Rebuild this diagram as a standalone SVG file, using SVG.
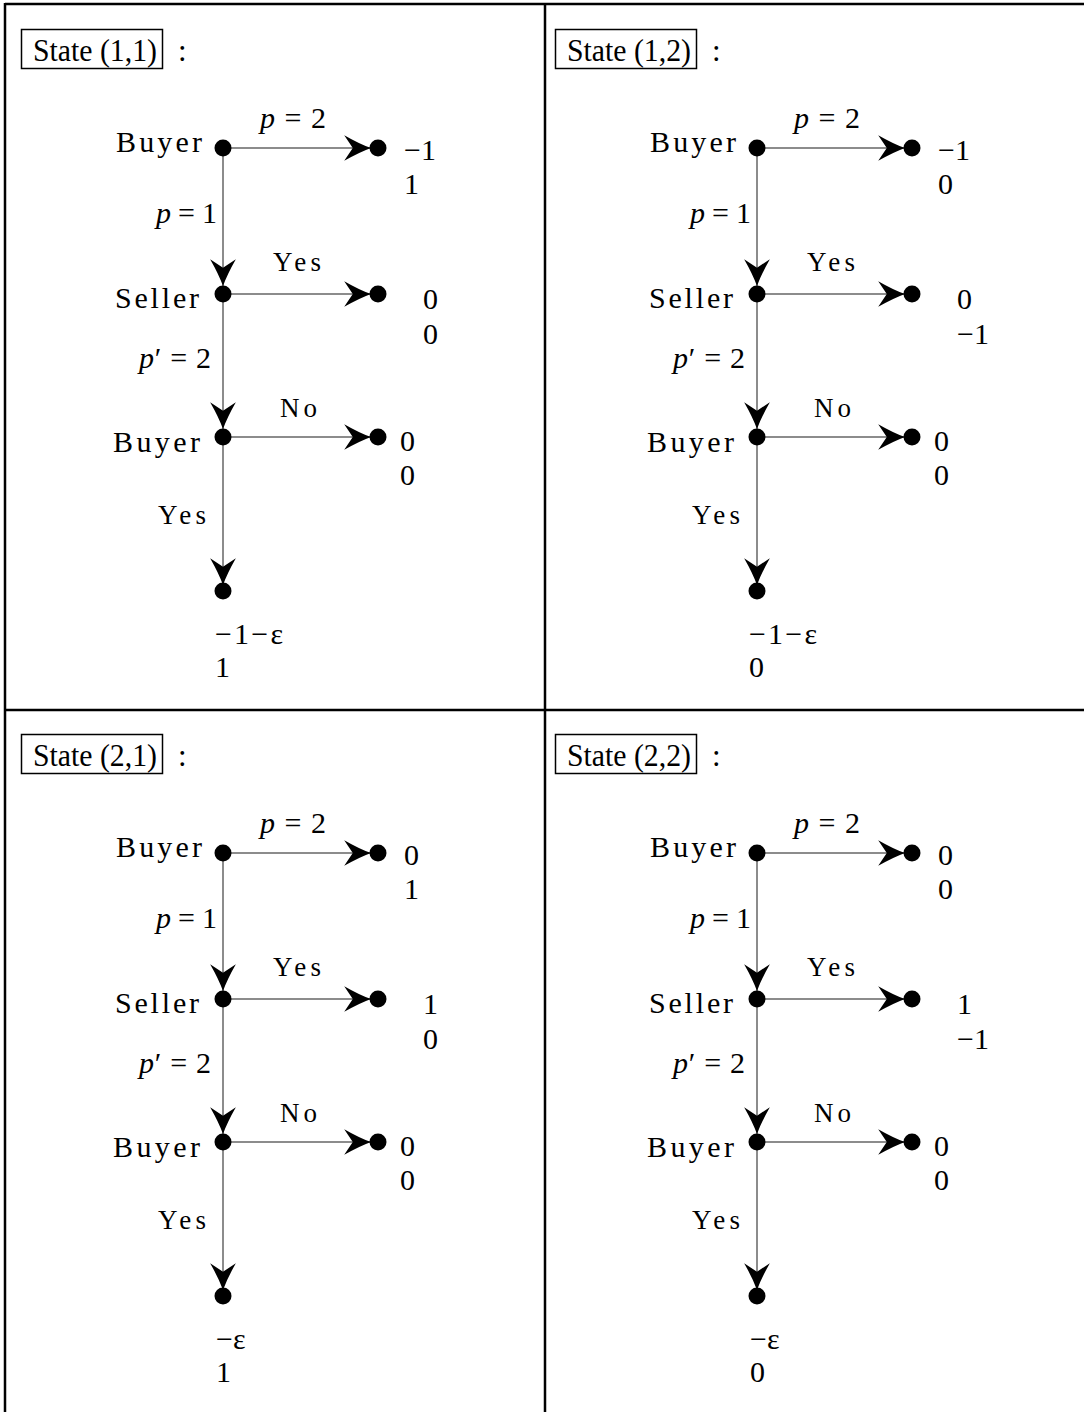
<svg xmlns="http://www.w3.org/2000/svg" width="1084" height="1412" viewBox="0 0 1084 1412">
<style>
text{font-family:"Liberation Serif","Times New Roman",serif;fill:#000}
.t{font-size:31px}
.lb{font-size:30px}
.sm{font-size:27px}
.nm{font-size:30px}
.i{font-style:italic}
.frame{stroke:#000;stroke-width:2.5;fill:none}
.box{stroke:#000;stroke-width:1.5;fill:none}
.e{stroke:#666;stroke-width:1.5;fill:none}
.d{fill:#000}
</style>
<defs>
<marker id="ah" markerUnits="userSpaceOnUse" markerWidth="30" markerHeight="30" viewBox="-26 -13 28 26" refX="0" refY="0" orient="auto">
<path d="M0,0 Q-11,-4 -25,-12 L-17,0 L-25,12 Q-11,4 0,0 Z" fill="#000"/>
</marker>
</defs>
<g id="frame">
<line class="frame" x1="5" y1="4" x2="1084" y2="4"/>
<line class="frame" x1="5" y1="3" x2="5" y2="1412"/>
<line class="frame" x1="545" y1="4" x2="545" y2="1412"/>
<line class="frame" x1="5" y1="710" x2="1084" y2="710"/>
</g>

<!-- Panel 1 -->
<g id="panel-11">
<g id="p11-connectors">
<line class="e" x1="223" y1="148" x2="371" y2="148" marker-end="url(#ah)"/>
<line class="e" x1="223" y1="148" x2="223" y2="286" marker-end="url(#ah)"/>
<line class="e" x1="223" y1="294" x2="371" y2="294" marker-end="url(#ah)"/>
<line class="e" x1="223" y1="294" x2="223" y2="429" marker-end="url(#ah)"/>
<line class="e" x1="223" y1="437" x2="371" y2="437" marker-end="url(#ah)"/>
<line class="e" x1="223" y1="437" x2="223" y2="585" marker-end="url(#ah)"/>
<text class="nm" x="260" y="128" textLength="66" lengthAdjust="spacing"><tspan class="i">p</tspan> = 2</text>
<text class="nm" x="156" y="223" textLength="61" lengthAdjust="spacing"><tspan class="i">p</tspan> = 1</text>
<text class="sm" x="273" y="271" textLength="48" lengthAdjust="spacing">Yes</text>
<text class="nm" x="139" y="368" textLength="72" lengthAdjust="spacing"><tspan class="i">p</tspan>′ = 2</text>
<text class="sm" x="280" y="417" textLength="37" lengthAdjust="spacing">No</text>
<text class="sm" x="158" y="524" textLength="48" lengthAdjust="spacing">Yes</text>
</g>
<g id="p11-title"><rect class="box" x="21.5" y="29.5" width="141" height="39"/><text class="t" x="33" y="61" textLength="124" lengthAdjust="spacingAndGlyphs">State (1,1)</text><text class="t" x="178" y="61">:</text></g>
<g id="p11-buyer1"><circle class="d" cx="223" cy="148" r="8.5"/><text class="lb" x="116" y="152" textLength="86" lengthAdjust="spacing">Buyer</text></g>
<g id="p11-end1"><circle class="d" cx="378" cy="148" r="8.5"/><text class="nm" x="404" y="160">−1</text><text class="nm" x="404" y="194">1</text></g>
<g id="p11-seller"><circle class="d" cx="223" cy="294" r="8.5"/><text class="lb" x="115" y="308" textLength="84" lengthAdjust="spacing">Seller</text></g>
<g id="p11-end2"><circle class="d" cx="378" cy="294" r="8.5"/><text class="nm" x="423" y="309">0</text><text class="nm" x="423" y="344">0</text></g>
<g id="p11-buyer2"><circle class="d" cx="223" cy="437" r="8.5"/><text class="lb" x="113" y="452" textLength="87" lengthAdjust="spacing">Buyer</text></g>
<g id="p11-end3"><circle class="d" cx="378" cy="437" r="8.5"/><text class="nm" x="400" y="451">0</text><text class="nm" x="400" y="485">0</text></g>
<g id="p11-end4"><circle class="d" cx="223" cy="591" r="8.5"/><text class="nm" x="215" y="644" textLength="68" lengthAdjust="spacing">−1−ε</text><text class="nm" x="215" y="677">1</text></g>
</g>

<!-- Panel 2 -->
<g id="panel-12" transform="translate(534,0)">
<g id="p12-connectors">
<line class="e" x1="223" y1="148" x2="371" y2="148" marker-end="url(#ah)"/>
<line class="e" x1="223" y1="148" x2="223" y2="286" marker-end="url(#ah)"/>
<line class="e" x1="223" y1="294" x2="371" y2="294" marker-end="url(#ah)"/>
<line class="e" x1="223" y1="294" x2="223" y2="429" marker-end="url(#ah)"/>
<line class="e" x1="223" y1="437" x2="371" y2="437" marker-end="url(#ah)"/>
<line class="e" x1="223" y1="437" x2="223" y2="585" marker-end="url(#ah)"/>
<text class="nm" x="260" y="128" textLength="66" lengthAdjust="spacing"><tspan class="i">p</tspan> = 2</text>
<text class="nm" x="156" y="223" textLength="61" lengthAdjust="spacing"><tspan class="i">p</tspan> = 1</text>
<text class="sm" x="273" y="271" textLength="48" lengthAdjust="spacing">Yes</text>
<text class="nm" x="139" y="368" textLength="72" lengthAdjust="spacing"><tspan class="i">p</tspan>′ = 2</text>
<text class="sm" x="280" y="417" textLength="37" lengthAdjust="spacing">No</text>
<text class="sm" x="158" y="524" textLength="48" lengthAdjust="spacing">Yes</text>
</g>
<g id="p12-title"><rect class="box" x="21.5" y="29.5" width="141" height="39"/><text class="t" x="33" y="61" textLength="124" lengthAdjust="spacingAndGlyphs">State (1,2)</text><text class="t" x="178" y="61">:</text></g>
<g id="p12-buyer1"><circle class="d" cx="223" cy="148" r="8.5"/><text class="lb" x="116" y="152" textLength="86" lengthAdjust="spacing">Buyer</text></g>
<g id="p12-end1"><circle class="d" cx="378" cy="148" r="8.5"/><text class="nm" x="404" y="160">−1</text><text class="nm" x="404" y="194">0</text></g>
<g id="p12-seller"><circle class="d" cx="223" cy="294" r="8.5"/><text class="lb" x="115" y="308" textLength="84" lengthAdjust="spacing">Seller</text></g>
<g id="p12-end2"><circle class="d" cx="378" cy="294" r="8.5"/><text class="nm" x="423" y="309">0</text><text class="nm" x="423" y="344">−1</text></g>
<g id="p12-buyer2"><circle class="d" cx="223" cy="437" r="8.5"/><text class="lb" x="113" y="452" textLength="87" lengthAdjust="spacing">Buyer</text></g>
<g id="p12-end3"><circle class="d" cx="378" cy="437" r="8.5"/><text class="nm" x="400" y="451">0</text><text class="nm" x="400" y="485">0</text></g>
<g id="p12-end4"><circle class="d" cx="223" cy="591" r="8.5"/><text class="nm" x="215" y="644" textLength="68" lengthAdjust="spacing">−1−ε</text><text class="nm" x="215" y="677">0</text></g>
</g>

<!-- Panel 3 -->
<g id="panel-21" transform="translate(0,705)">
<g id="p21-connectors">
<line class="e" x1="223" y1="148" x2="371" y2="148" marker-end="url(#ah)"/>
<line class="e" x1="223" y1="148" x2="223" y2="286" marker-end="url(#ah)"/>
<line class="e" x1="223" y1="294" x2="371" y2="294" marker-end="url(#ah)"/>
<line class="e" x1="223" y1="294" x2="223" y2="429" marker-end="url(#ah)"/>
<line class="e" x1="223" y1="437" x2="371" y2="437" marker-end="url(#ah)"/>
<line class="e" x1="223" y1="437" x2="223" y2="585" marker-end="url(#ah)"/>
<text class="nm" x="260" y="128" textLength="66" lengthAdjust="spacing"><tspan class="i">p</tspan> = 2</text>
<text class="nm" x="156" y="223" textLength="61" lengthAdjust="spacing"><tspan class="i">p</tspan> = 1</text>
<text class="sm" x="273" y="271" textLength="48" lengthAdjust="spacing">Yes</text>
<text class="nm" x="139" y="368" textLength="72" lengthAdjust="spacing"><tspan class="i">p</tspan>′ = 2</text>
<text class="sm" x="280" y="417" textLength="37" lengthAdjust="spacing">No</text>
<text class="sm" x="158" y="524" textLength="48" lengthAdjust="spacing">Yes</text>
</g>
<g id="p21-title"><rect class="box" x="21.5" y="29.5" width="141" height="39"/><text class="t" x="33" y="61" textLength="124" lengthAdjust="spacingAndGlyphs">State (2,1)</text><text class="t" x="178" y="61">:</text></g>
<g id="p21-buyer1"><circle class="d" cx="223" cy="148" r="8.5"/><text class="lb" x="116" y="152" textLength="86" lengthAdjust="spacing">Buyer</text></g>
<g id="p21-end1"><circle class="d" cx="378" cy="148" r="8.5"/><text class="nm" x="404" y="160">0</text><text class="nm" x="404" y="194">1</text></g>
<g id="p21-seller"><circle class="d" cx="223" cy="294" r="8.5"/><text class="lb" x="115" y="308" textLength="84" lengthAdjust="spacing">Seller</text></g>
<g id="p21-end2"><circle class="d" cx="378" cy="294" r="8.5"/><text class="nm" x="423" y="309">1</text><text class="nm" x="423" y="344">0</text></g>
<g id="p21-buyer2"><circle class="d" cx="223" cy="437" r="8.5"/><text class="lb" x="113" y="452" textLength="87" lengthAdjust="spacing">Buyer</text></g>
<g id="p21-end3"><circle class="d" cx="378" cy="437" r="8.5"/><text class="nm" x="400" y="451">0</text><text class="nm" x="400" y="485">0</text></g>
<g id="p21-end4"><circle class="d" cx="223" cy="591" r="8.5"/><text class="nm" x="216" y="644">−ε</text><text class="nm" x="216" y="677">1</text></g>
</g>

<!-- Panel 4 -->
<g id="panel-22" transform="translate(534,705)">
<g id="p22-connectors">
<line class="e" x1="223" y1="148" x2="371" y2="148" marker-end="url(#ah)"/>
<line class="e" x1="223" y1="148" x2="223" y2="286" marker-end="url(#ah)"/>
<line class="e" x1="223" y1="294" x2="371" y2="294" marker-end="url(#ah)"/>
<line class="e" x1="223" y1="294" x2="223" y2="429" marker-end="url(#ah)"/>
<line class="e" x1="223" y1="437" x2="371" y2="437" marker-end="url(#ah)"/>
<line class="e" x1="223" y1="437" x2="223" y2="585" marker-end="url(#ah)"/>
<text class="nm" x="260" y="128" textLength="66" lengthAdjust="spacing"><tspan class="i">p</tspan> = 2</text>
<text class="nm" x="156" y="223" textLength="61" lengthAdjust="spacing"><tspan class="i">p</tspan> = 1</text>
<text class="sm" x="273" y="271" textLength="48" lengthAdjust="spacing">Yes</text>
<text class="nm" x="139" y="368" textLength="72" lengthAdjust="spacing"><tspan class="i">p</tspan>′ = 2</text>
<text class="sm" x="280" y="417" textLength="37" lengthAdjust="spacing">No</text>
<text class="sm" x="158" y="524" textLength="48" lengthAdjust="spacing">Yes</text>
</g>
<g id="p22-title"><rect class="box" x="21.5" y="29.5" width="141" height="39"/><text class="t" x="33" y="61" textLength="124" lengthAdjust="spacingAndGlyphs">State (2,2)</text><text class="t" x="178" y="61">:</text></g>
<g id="p22-buyer1"><circle class="d" cx="223" cy="148" r="8.5"/><text class="lb" x="116" y="152" textLength="86" lengthAdjust="spacing">Buyer</text></g>
<g id="p22-end1"><circle class="d" cx="378" cy="148" r="8.5"/><text class="nm" x="404" y="160">0</text><text class="nm" x="404" y="194">0</text></g>
<g id="p22-seller"><circle class="d" cx="223" cy="294" r="8.5"/><text class="lb" x="115" y="308" textLength="84" lengthAdjust="spacing">Seller</text></g>
<g id="p22-end2"><circle class="d" cx="378" cy="294" r="8.5"/><text class="nm" x="423" y="309">1</text><text class="nm" x="423" y="344">−1</text></g>
<g id="p22-buyer2"><circle class="d" cx="223" cy="437" r="8.5"/><text class="lb" x="113" y="452" textLength="87" lengthAdjust="spacing">Buyer</text></g>
<g id="p22-end3"><circle class="d" cx="378" cy="437" r="8.5"/><text class="nm" x="400" y="451">0</text><text class="nm" x="400" y="485">0</text></g>
<g id="p22-end4"><circle class="d" cx="223" cy="591" r="8.5"/><text class="nm" x="216" y="644">−ε</text><text class="nm" x="216" y="677">0</text></g>
</g>
</svg>
